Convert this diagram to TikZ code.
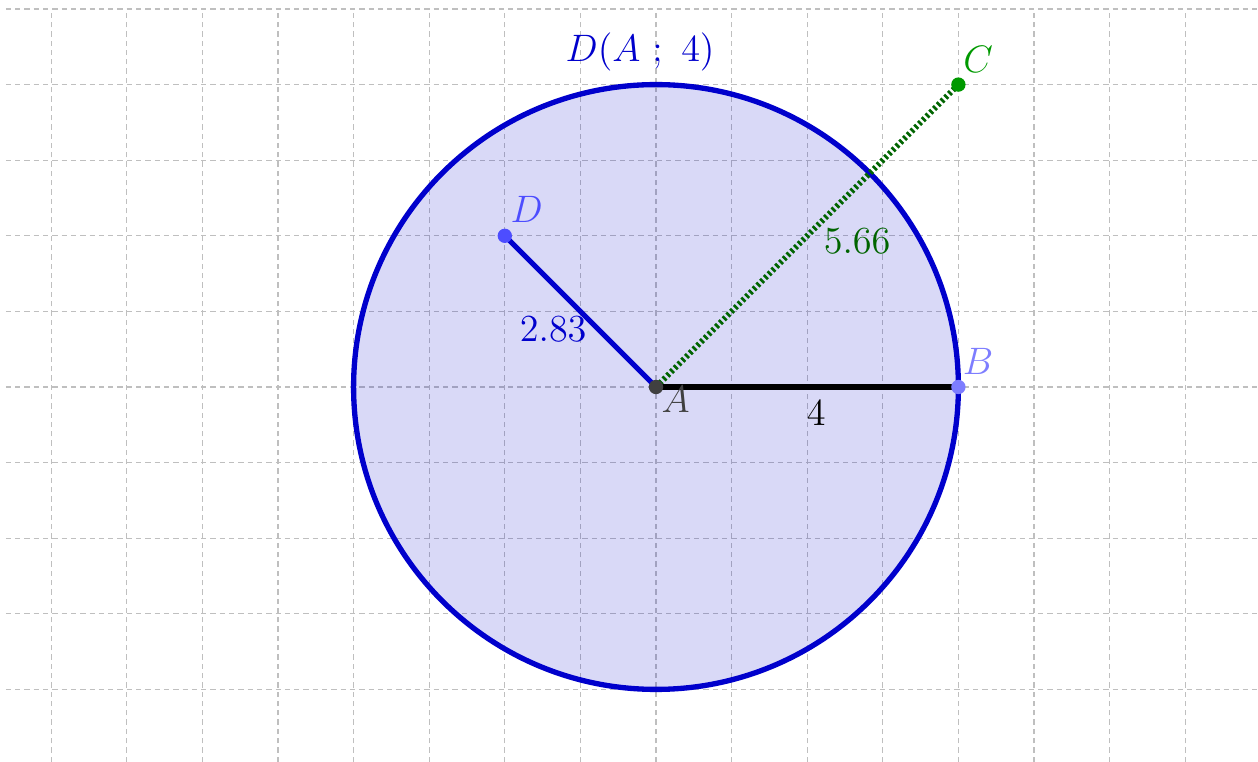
\documentclass[tikz,border=0pt]{standalone}
\usetikzlibrary{calc}
\definecolor{circblue}{RGB}{0,0,204}
\definecolor{dblue}{RGB}{77,77,255}
\definecolor{bblue}{RGB}{125,125,255}
\definecolor{cgreen}{RGB}{0,153,0}
\definecolor{dgreen}{RGB}{0,100,0}
\definecolor{agray}{RGB}{64,64,64}
\tikzset{
  gridline/.style={gray!50, line width=0.4pt, dash pattern=on 2pt off 1.5pt},
  pt/.style={circle, inner sep=0pt, minimum size=4pt},
  lbl/.style={font=\fontsize{15}{18}\selectfont},
}
\begin{document}
\begin{tikzpicture}[x=1cm,y=1cm]
\useasboundingbox (-8.677,-4.960) rectangle (7.963,5.119);
% grid
\foreach \x in {-8,...,7} \draw[gridline] (\x,-4.96) -- (\x,5);
\foreach \y in {-4,...,5} \draw[gridline] (-8.6,\y) -- (7.963,\y);
% disc
\fill[circblue, fill opacity=0.15] (0,0) circle (4);
\draw[circblue, line width=2pt] (0,0) circle (4);
% points
\node[pt] (A) at (0,0) {};
\node[pt] (B) at (4,0) {};
\node[pt] (C) at (4,4) {};
\node[pt] (D) at (-2,2) {};
% segments
\draw[dgreen, line width=2.2pt, dash pattern=on 1pt off 1pt] (A.center) -- (C.center);
\draw[circblue, line width=1.9pt] (A.center) -- (D.center);
\draw[black, line width=2.2pt] (A.center) -- (B.center);
\fill[agray] (A) circle (2.7pt);
\fill[bblue] (B) circle (2.7pt);
\fill[cgreen] (C) circle (2.7pt);
\fill[dblue] (D) circle (2.7pt);
% labels
\node[lbl, text=circblue] (lc) at (-0.21,4.43) {$D(A\ ;\ 4)$};
\node[lbl, text=cgreen] (lC) at (4.26,4.33) {$C$};
\node[lbl, text=dblue] (lD) at (-1.71,2.35) {$D$};
\node[lbl, text=bblue] (lB) at (4.26,0.34) {$B$};
\node[lbl, text=agray] (lA) at (0.26,-0.17) {$A$};
\node[lbl, text=black] (l4) at (2.12,-0.34) {$4$};
\node[lbl, text=circblue] (l283) at (-1.36,0.77) {$2.83$};
\node[lbl, text=dgreen] (l566) at (2.66,1.93) {$5.66$};
\end{tikzpicture}
\end{document}
